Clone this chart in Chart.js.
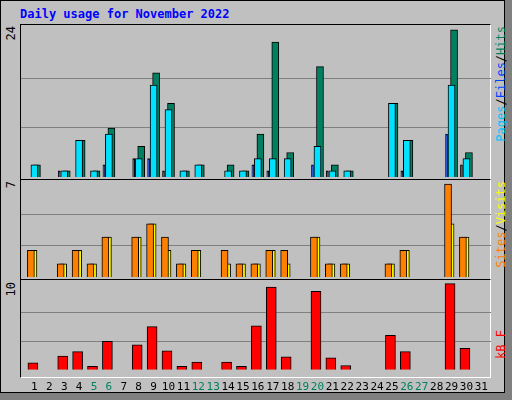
<!DOCTYPE html>
<html><head><meta charset="utf-8">
<script src="https://cdn.jsdelivr.net/npm/chart.js@4"></script>
<style>
body{margin:0;background:#808080;width:512px;height:400px;overflow:hidden;font-family:"DejaVu Sans Mono",monospace}
#frame{position:absolute;left:0;top:0;width:505px;height:393px;background:#c0c0c0;border:1px solid #000;box-sizing:border-box}
.panel{position:absolute;left:20px;width:471px;box-sizing:border-box;border-top:1px solid #000;border-left:1px solid #000;border-right:1px solid #fff;border-bottom:1px solid #fff}
.cv{position:absolute}
.vt{position:absolute;writing-mode:vertical-rl;transform:rotate(180deg);font-size:12px;white-space:nowrap}
#title{position:absolute;left:20px;top:7px;font-weight:bold;font-size:12px;color:#0000ff}
</style></head><body>
<div id="frame"></div>
<div id="title">Daily usage for November 2022</div>
<div class="panel" style="top:24px;height:156px"></div>
<div class="panel" style="top:179px;height:101px"></div>
<div class="panel" style="top:279px;height:99px"></div>
<div class="cv" style="left:21px;top:25px;width:470px;height:152px"><canvas id="c1"></canvas></div>
<div class="cv" style="left:21px;top:180px;width:470px;height:97px"><canvas id="c2"></canvas></div>
<div class="cv" style="left:21px;top:281px;width:470px;height:116px"><canvas id="c3"></canvas></div>
<div class="vt" style="left:4px;top:26px;font-size:12px">24</div>
<div class="vt" style="left:4px;top:181px">7</div>
<div class="vt" style="left:4px;top:282px">10</div>
<div class="vt" style="left:494px;top:26px"><span style="color:#00c0ff">Pages</span><span style="color:#000">/</span><span style="color:#0040ff">Files</span><span style="color:#000">/</span><span style="color:#008060">Hits</span></div>
<div class="vt" style="left:494px;top:181px"><span style="color:#ff8000">Sites</span><span style="color:#000">/</span><span style="color:#ffff00">Visits</span></div>
<div class="vt" style="left:494px;top:330px"><span style="color:#ff0000">kB F</span></div>
<script>
const days=[1,2,3,4,5,6,7,8,9,10,11,12,13,14,15,16,17,18,19,20,21,22,23,24,25,26,27,28,29,30,31];
const hits=[2,0,1,6,1,8,0,5,17,12,1,2,0,2,1,7,22,4,0,18,2,1,0,0,12,6,0,0,24,4,0];
const files=[2,0,1,6,1,7,0,3,15,11,1,2,0,1,1,3,3,3,0,5,1,1,0,0,12,6,0,0,15,3,0];
const pages=[0,0,1,0,0,2,0,3,3,1,0,0,0,0,0,2,1,0,0,2,1,0,0,0,0,1,0,0,7,2,0];
const visits=[2,0,1,2,1,3,0,3,4,3,1,2,0,2,1,1,2,2,0,3,1,1,0,0,1,2,0,0,7,3,0];
const sites=[2,0,1,2,1,3,0,3,4,2,1,2,0,1,1,1,2,1,0,3,1,1,0,0,1,2,0,0,4,3,0];
const kbytes=[0.8,0,1.6,2.1,0.4,3.3,0,2.9,5.0,2.2,0.4,0.9,0,0.9,0.4,5.1,9.6,1.5,0,9.1,1.4,0.5,0,0,4.0,2.1,0,0,10,2.5,0];
const weekend=[5,6,12,13,19,20,26,27];
const pts=(arr,off)=>arr.map((v,i)=>({x:days[i]+off,y:v})).filter(p=>p.y>0);
function ds(arr,off,color,w,order){return{data:pts(arr,off),backgroundColor:color,borderColor:'#000',borderWidth:1,borderSkipped:'bottom',barThickness:w,order:order}}
function opts(max,showX){return{responsive:true,maintainAspectRatio:false,animation:false,
 layout:{padding:0},plugins:{legend:{display:false},tooltip:{enabled:false}},
 scales:{x:{type:'linear',offset:false,min:0.1,max:31.65,display:showX,grid:{display:false,offset:false},border:{display:false},
   afterBuildTicks:s=>{s.ticks=days.map(d=>({value:d}))},
   ticks:{autoSkip:false,maxRotation:0,padding:3,font:{family:'DejaVu Sans Mono',size:11},
     color:c=>weekend.includes(c.tick.value)?'#008060':'#000',callback:v=>String(v)}},
  y:{min:0,max:max,display:true,border:{display:false},grid:{color:'#808080',lineWidth:1,drawTicks:false},
   afterFit:s=>{s.width=0},
   afterBuildTicks:s=>{s.ticks=[{value:max===24.8?8:max*0.3226},{value:max===24.8?16:max*0.6452}]},
   ticks:{display:false}}}}}
new Chart(document.getElementById('c1'),{type:'bar',data:{datasets:[
 ds(pages,-0.2,'#0040ff',2,1),ds(files,0,'#00e0ff',7,2),ds(hits,-0.3,'#008060',7,3)]},options:opts(24.8,false)});
new Chart(document.getElementById('c2'),{type:'bar',data:{datasets:[
 ds(visits,0,'#ff8000',7,1),ds(sites,-0.3,'#ffff00',7,2)]},options:opts(7.3,false)});
new Chart(document.getElementById('c3'),{type:'bar',data:{datasets:[
 ds(kbytes,-0.1,'#ff0000',10,1)]},options:opts(10.3,true)});
</script></body></html>
